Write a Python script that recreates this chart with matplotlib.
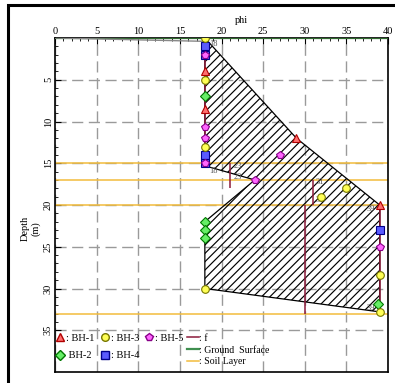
import numpy as np
import matplotlib.pyplot as plt
from matplotlib.lines import Line2D
from matplotlib.patches import Polygon, Rectangle
from matplotlib.ticker import FixedLocator

plt.rcParams['font.family'] = ['Liberation Serif', 'DejaVu Serif']
plt.rcParams['hatch.linewidth'] = 0.85

# borehole readings: phi vs depth (m)
bh1_phi = [18, 18, 29, 39]
bh1_depth = [4, 8.5, 12, 20]
bh2_phi = [18, 18, 18, 18, 38.8]
bh2_depth = [7, 22, 23, 24, 31.8]
bh3_phi = [18, 18, 18, 18, 35, 32, 39, 39]
bh3_depth = [0, 5, 13, 30, 18, 19, 28.4, 32.8]
bh4_phi = [18, 18, 18, 18, 39]
bh4_depth = [1, 2, 14, 15, 23]
bh5_phi = [18, 18, 18, 18, 27, 24, 39]
bh5_depth = [2, 10.6, 12, 15, 14, 17, 25]

# envelope of the readings
env_phi = [18, 29, 39, 39, 18, 18, 24, 18]
env_depth = [0, 12, 20, 32.8, 30, 22, 17, 15.3]

# design f profile
f_phi = [18, 21, 31, 30, 39]
f_top = [0, 15, 17, 20, 20]
f_bot = [15.4, 18, 20, 33, 33]
f_text = ['18', '18', '23', '23', '31', '33', '39', '39']
f_text_phi = [18.5, 18.5, 21.4, 21.4, 31.3, 31.3, 37.4, 37.4]
f_text_depth = [0.7, 15.9, 15.3, 16.6, 17.3, 19.4, 20.5, 32.3]

soil_layers = [15, 17, 20, 33]

fig = plt.figure(figsize=(3.95, 3.83), dpi=100)
ax = fig.add_axes([55/395, 1-372/383, 333/395, 334/383])

fig.patches.append(Rectangle((8/395, -0.05), 1.0, 1-5/383+0.05, transform=fig.transFigure,
                             fill=False, edgecolor='black', linewidth=2.2, zorder=10))

ax.set_xlim(0, 40)
ax.set_ylim(40, 0)

ax.add_patch(Polygon(np.column_stack([env_phi, env_depth]), closed=True, facecolor='none',
                     edgecolor='black', hatch='////', linewidth=0.9, zorder=2))

for d in soil_layers:
    ax.axhline(d, color='#f2bc3c', linewidth=1.1, zorder=1.5)
ax.axhline(0, color='#2f6b2f', linewidth=1.6, zorder=3)
ax.plot([0, 18], [0, 0.4], color='#888888', linewidth=1.0, zorder=3)

ax.vlines(f_phi, f_top, f_bot, color='#8b1a3a', linewidth=1.1, zorder=3)
for t, x, y in zip(f_text, f_text_phi, f_text_depth):
    ax.text(x, y, t, fontsize=6, color='#555555', ha='left', va='center', zorder=4)

mk = dict(linestyle='none', markersize=5.5, markeredgewidth=0.8, zorder=5)
ax.plot(bh4_phi, bh4_depth, marker='s', markerfacecolor='#5a5aff', markeredgecolor='#000088', **mk)
ax.plot(bh1_phi, bh1_depth, marker='^', markerfacecolor='#ff6f6f', markeredgecolor='#b00000', **mk)
ax.plot(bh2_phi, bh2_depth, marker='D', markerfacecolor='#66ee66', markeredgecolor='#007700',
        linestyle='none', markersize=5, markeredgewidth=0.8, zorder=5)
ax.plot(bh3_phi, bh3_depth, marker='o', markerfacecolor='#ffff55', markeredgecolor='#777700', **mk)
ax.plot(bh5_phi, bh5_depth, marker='p', markerfacecolor='#ff66ff', markeredgecolor='#880088', **mk)

ax.grid(True, color='#9a9a9a', linestyle=(0, (8, 4)), linewidth=1.0, zorder=1)
ax.set_axisbelow(True)

ax.xaxis.tick_top()
ax.xaxis.set_label_position('top')
ax.set_xticks(np.arange(0, 41, 5))
ax.xaxis.set_minor_locator(FixedLocator(np.arange(0, 41, 1)))
ax.set_yticks(np.arange(5, 36, 5))
ax.yaxis.set_minor_locator(FixedLocator(np.arange(0, 36, 1)))
ax.tick_params(which='both', direction='in', labelsize=7.5, pad=1.5)
ax.tick_params(which='major', length=4)
ax.tick_params(which='minor', length=2)
ax.tick_params(axis='y', labelrotation=90)
for lbl in ax.get_yticklabels():
    lbl.set_va('center')

ax.set_xlabel('phi', fontsize=7.5, labelpad=8)
ax.xaxis.set_label_coords(0.56, 1.045)
ax.set_ylabel('Depth\n(m)', fontsize=7.5, linespacing=1.1)
ax.yaxis.set_label_coords(-0.045, 0.43)

for s in ax.spines.values():
    s.set_linewidth(1.2)

hb = [
    Line2D([], [], marker='^', linestyle='none', markersize=5.5, markerfacecolor='#ff6f6f', markeredgecolor='#b00000'),
    Line2D([], [], marker='D', linestyle='none', markersize=5, markerfacecolor='#66ee66', markeredgecolor='#007700'),
    Line2D([], [], marker='o', linestyle='none', markersize=5.5, markerfacecolor='#ffff55', markeredgecolor='#777700'),
    Line2D([], [], marker='s', linestyle='none', markersize=5.5, markerfacecolor='#5a5aff', markeredgecolor='#000088'),
    Line2D([], [], marker='p', linestyle='none', markersize=5.5, markerfacecolor='#ff66ff', markeredgecolor='#880088'),
]
leg1 = ax.legend(hb, [': BH-1', ' BH-2', ': BH-3', ': BH-4', ': BH-5'], ncol=3, loc='lower left',
                 bbox_to_anchor=(-0.01, 0.023), frameon=False, fontsize=7.5, handlelength=0.8,
                 handletextpad=0.2, columnspacing=0.55, labelspacing=0.75, borderaxespad=0)
ax.add_artist(leg1)

hl = [
    Line2D([], [], color='#8b1a3a', linewidth=1.1),
    Line2D([], [], color='#3f8f4f', linewidth=1.6),
    Line2D([], [], color='#f2bc3c', linewidth=1.1),
]
ax.legend(hl, [': f', ': Ground  Surface', ': Soil Layer'], loc='lower left',
          bbox_to_anchor=(0.385, 0.005), frameon=False, fontsize=7, handlelength=1.2,
          handletextpad=0.0, labelspacing=0.3, borderaxespad=0)

fig.savefig('out.png', dpi=100)
